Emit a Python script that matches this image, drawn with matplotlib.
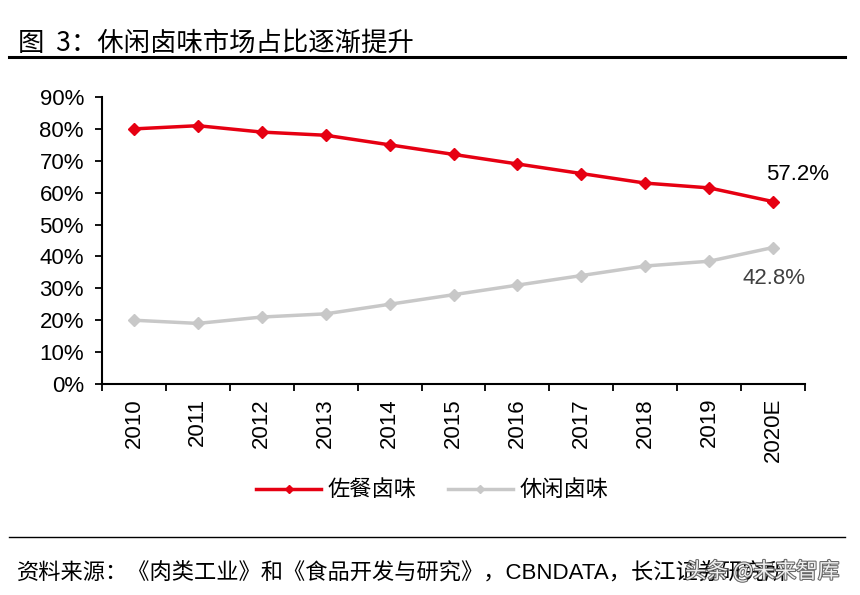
import matplotlib
matplotlib.use("Agg")
import matplotlib.pyplot as plt
import matplotlib.patheffects as pe
from matplotlib.lines import Line2D

categories = ["2010", "2011", "2012", "2013", "2014", "2015", "2016", "2017", "2018", "2019", "2020E"]
zuocan = [80, 81, 79, 78, 75, 72, 69, 66, 63, 61.5, 57.2]
xiuxian = [20, 19, 21, 22, 25, 28, 31, 34, 37, 38.5, 42.8]
yticks = [0, 10, 20, 30, 40, 50, 60, 70, 80, 90]
series_names = ["佐餐卤味", "休闲卤味"]

FAM = ["Liberation Sans", "Noto Sans CJK SC", "DejaVu Sans"]
CJK = ["Noto Sans CJK SC", "Liberation Sans", "DejaVu Sans"]
plt.rcParams['font.family'] = FAM

RED = "#e60012"
GREY = "#c8c8c8"

fig = plt.figure(figsize=(8.6, 5.95), dpi=100)
ax = fig.add_axes([102/860, 1-384/595, (805-102)/860, (384-97)/595])

x = list(range(len(categories)))
ax.plot(x, zuocan, color=RED, lw=2.5, marker="D", ms=6, solid_joinstyle="round")
ax.plot(x, xiuxian, color=GREY, lw=2.5, marker="D", ms=6, solid_joinstyle="round")

ax.set_xlim(-0.5, len(categories) - 0.5)
ax.set_ylim(0, 90)
ax.set_yticks(yticks)
ax.set_yticklabels([f"{v}%" for v in yticks], fontsize=16)
ax.set_xticks([i - 0.5 for i in range(len(categories) + 1)], minor=False)
ax.set_xticklabels([])
ax.set_xticks(x, minor=True)
ax.set_xticklabels(categories, minor=True, rotation=90, fontsize=16)
ax.tick_params(axis="x", which="minor", length=0, pad=10)
ax.tick_params(axis="x", which="major", length=5, width=1.3, direction="out")
ax.tick_params(axis="y", length=5, width=1.3, direction="out", pad=8)
for s in ["top", "right"]:
    ax.spines[s].set_visible(False)
for s in ["left", "bottom"]:
    ax.spines[s].set_linewidth(1.5)

ax.annotate(f"{zuocan[-1]}%", (x[-1], zuocan[-1]), xytext=(18, 19.5), textcoords="offset points",
            ha="center", va="center", fontsize=16, color="black")
ax.annotate(f"{xiuxian[-1]}%", (x[-1], xiuxian[-1]), xytext=(1, -22.5), textcoords="offset points",
            ha="center", va="center", fontsize=16, color="#404040")

handles = [Line2D([], [], color=RED, lw=2.5, marker="D", ms=4.5),
           Line2D([], [], color=GREY, lw=2.5, marker="D", ms=4.5)]
fig.legend(handles, series_names, loc="center", bbox_to_anchor=(432/860, 1-490/595), ncol=2,
           frameon=False, prop={"family": CJK, "size": 16}, handlelength=2.95,
           handletextpad=0.27, columnspacing=1.4)

fig.text(18/860, 1-43/595, "图  3：休闲卤味市场占比逐渐提升", family=CJK, fontsize=19,
         ha="left", va="center")
fig.add_artist(Line2D([9/860, 845/860], [1-57/595, 1-57/595], color="black", lw=2.2))
fig.add_artist(Line2D([9/860, 845/860], [1-537/595, 1-537/595], color="black", lw=1.0))
fig.text(17/860, 1-573/595, "资料来源：《肉类工业》和《食品开发与研究》，CBNDATA，长江证券研究所",
         family=FAM, fontsize=16, ha="left", va="center")
fig.text(685/860, 1-572/595, "头条 @未来智库", family=CJK, fontsize=15.5, ha="left", va="center",
         color="white", alpha=0.9,
         path_effects=[pe.withStroke(linewidth=1.5, foreground="#555555")])

fig.savefig("out.png", dpi=100, facecolor="white")
